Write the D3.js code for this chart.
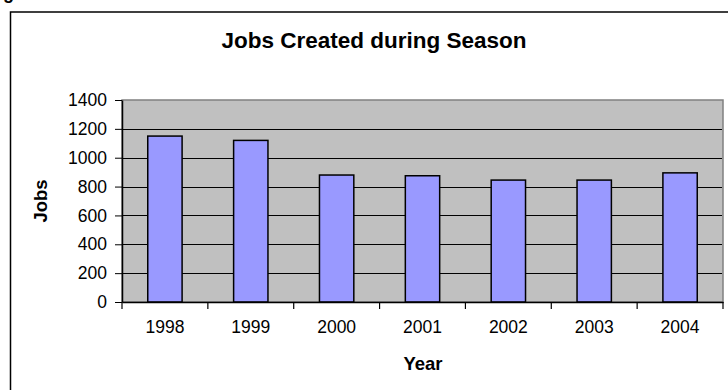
<!DOCTYPE html>
<html><head><meta charset="utf-8">
<script src="https://cdn.jsdelivr.net/npm/d3@7"></script>
<style>html,body{margin:0;padding:0;background:#fff;}svg{display:block;}</style>
</head><body>
<script>
const years = ["1998","1999","2000","2001","2002","2003","2004"];
const jobs = [1150, 1120, 880, 875, 845, 845, 895];
const yTicks = [0,200,400,600,800,1000,1200,1400];
const chartTitle = "Jobs Created during Season";
const xTitle = "Year";
const yTitle = "Jobs";

const W = 728, H = 390;
const plot = {left:122, right:723, top:100, bottom:302};
const font = "'Liberation Sans', Arial, Helvetica, sans-serif";

const svg = d3.select("body").append("svg").attr("width",W).attr("height",H);
svg.append("rect").attr("width",W).attr("height",H).attr("fill","#fff");

// partly visible caption glyph at top-left
svg.append("text").attr("x",3).attr("y",-1).attr("font-family",font).attr("font-weight","bold")
  .attr("font-size",18).text("g");

// outer chart frame (extends beyond canvas on right and bottom)
svg.append("rect").attr("x",10.5).attr("y",12).attr("width",W+20).attr("height",H+20)
  .attr("fill","#fff").attr("stroke","#000").attr("stroke-width",1.5);

const x = d3.scaleBand().domain(years).range([plot.left, plot.right]).paddingInner(0.6).paddingOuter(0.3);
const xb = d3.scaleBand().domain(years).range([plot.left, plot.right]);
const y = d3.scaleLinear().domain([0,1400]).range([plot.bottom, plot.top]);

// plot area
svg.append("rect").attr("x",plot.left).attr("y",plot.top)
  .attr("width",plot.right-plot.left).attr("height",plot.bottom-plot.top)
  .attr("fill","#C0C0C0").attr("stroke","#808080").attr("stroke-width",1.5);

// gridlines
svg.append("g").selectAll("line").data(yTicks.filter(t=>t>0 && t<1400)).join("line")
  .attr("x1",plot.left).attr("x2",plot.right-1)
  .attr("y1",d=>Math.round(y(d))+0.5).attr("y2",d=>Math.round(y(d))+0.5)
  .attr("stroke","#000").attr("stroke-width",1);

// bars
svg.append("g").selectAll("rect").data(jobs).join("rect")
  .attr("x",(d,i)=>x(years[i])).attr("width",x.bandwidth())
  .attr("y",d=>y(d)).attr("height",d=>y(0)-y(d))
  .attr("fill","#9999FF").attr("stroke","#000").attr("stroke-width",1.5);

// y axis
const yAxis = d3.axisLeft(y).tickValues(yTicks).tickFormat(d3.format("d")).tickSize(7).tickPadding(8).tickSizeOuter(0);
const gy = svg.append("g").attr("transform",`translate(${plot.left},0)`).call(yAxis);
gy.select(".domain").attr("stroke","#000").attr("stroke-width",1.5);
gy.selectAll(".tick line").attr("stroke","#000");
gy.selectAll("text").attr("font-family",font).attr("font-size",17.5).attr("fill","#000");

// x axis
const xAxis = d3.axisBottom(xb).tickSize(0).tickPadding(19).tickSizeOuter(0);
const gx = svg.append("g").attr("transform",`translate(0,${plot.bottom})`).call(xAxis);
gx.select(".domain").attr("stroke","#000").attr("stroke-width",1.5);
gx.selectAll("text").attr("font-family",font).attr("font-size",17.5).attr("fill","#000");
// category boundary ticks
svg.append("g").selectAll("line").data(d3.range(years.length+1)).join("line")
  .attr("x1",i=>plot.left + i*xb.step()).attr("x2",i=>plot.left + i*xb.step())
  .attr("y1",plot.bottom).attr("y2",plot.bottom+7).attr("stroke","#000").attr("stroke-width",1.2);

// titles
svg.append("text").attr("x",374).attr("y",48).attr("text-anchor","middle")
  .attr("font-family",font).attr("font-weight","bold").attr("font-size",22.5).text(chartTitle);
svg.append("text").attr("x",423).attr("y",370).attr("text-anchor","middle")
  .attr("font-family",font).attr("font-weight","bold").attr("font-size",18.5).text(xTitle);
svg.append("text").attr("transform","translate(47,201) rotate(-90)").attr("text-anchor","middle")
  .attr("font-family",font).attr("font-weight","bold").attr("font-size",18.5).text(yTitle);
</script>
</body></html>
